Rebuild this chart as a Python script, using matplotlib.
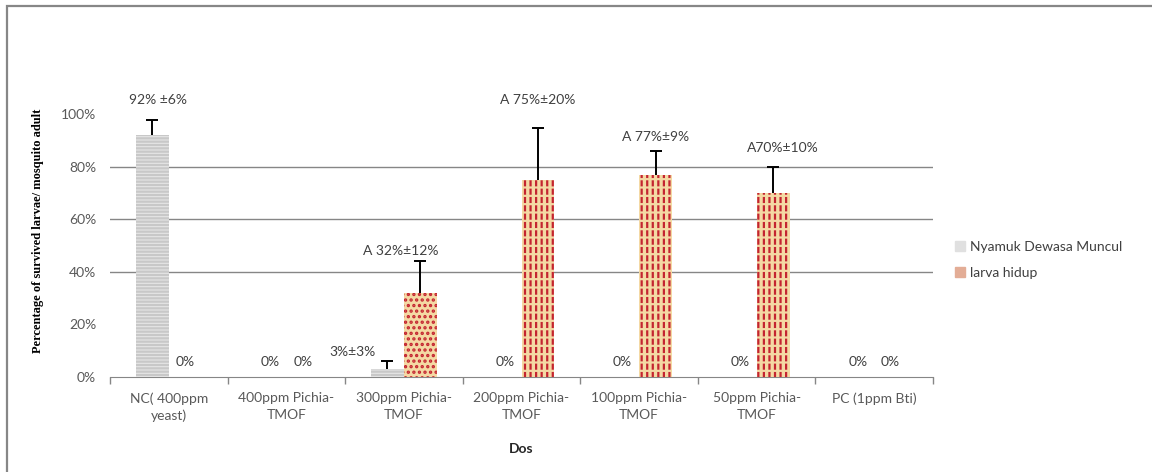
import matplotlib.pyplot as plt
import matplotlib.patches as mpatches
import numpy as np

categories = ["NC( 400ppm\nyeast)", "400ppm Pichia-\nTMOF", "300ppm Pichia-\nTMOF",
              "200ppm Pichia-\nTMOF", "100ppm Pichia-\nTMOF", "50ppm Pichia-\nTMOF",
              "PC (1ppm Bti)"]
adult = [92, 0, 3, 0, 0, 0, 0]
adult_err = [6, 0, 3, 0, 0, 0, 0]
larva = [0, 0, 32, 75, 77, 70, 0]
larva_err = [0, 0, 12, 20, 9, 10, 0]
adult_labels = ["92% \u00b16%", "0%", "3%\u00b13%", "0%", "0%", "0%", "0%"]
larva_labels = ["0%", "0%", "A 32%\u00b112%", "A 75%\u00b120%", "A 77%\u00b19%", "A70%\u00b110%", "0%"]
series_names = ["Nyamuk Dewasa Muncul", "larva hidup"]

# label nudges (layout only)
adult_dy = [7.5, 5.7, 3.5, 5.7, 5.7, 5.7, 5.7]
adult_dx = [0.05, 0, -0.3, 0, 0, 0, 0]
larva_dy = [5.7, 5.7, 4.0, 10.5, 5.4, 7.2, 5.7]
larva_dx = [0, 0, -0.17, 0, 0, 0.085, 0]

FONT = "Lato"
GRID = "#868686"
TXT = "#404040"
TAN = "#f4d9a4"

plt.rcParams["hatch.linewidth"] = 1.6

fig = plt.figure(figsize=(11.52, 4.72), dpi=100)
ax = fig.add_axes([0.0955, 0.2013, 0.7144, 0.6674])

x = np.arange(len(categories))
w = 0.28

b1 = ax.bar(x - w / 2, adult, w, color="#e6e6e6", edgecolor="#c8c8c8",
            linewidth=0, hatch="-----", zorder=3)
b2 = ax.bar(x + w / 2, larva, w, color=TAN, edgecolor="#c42430",
            linewidth=0, hatch="|||", zorder=3)
b2[2].set_hatch("...")
# break the red lines into dashes with tan stripes on top
b3 = ax.bar(x + w / 2, larva, w, fill=False, edgecolor=TAN,
            linewidth=0, hatch="--", zorder=3.5)
b3[2].set_hatch("")

# upper-only error bars
for xs, vals, errs in [(x - w / 2, adult, adult_err), (x + w / 2, larva, larva_err)]:
    for xi, v, e in zip(xs, vals, errs):
        if e > 0:
            ax.vlines(xi, v, v + e, color="black", lw=1.4, zorder=4)
            ax.plot([xi], [v + e], marker="_", ms=8, mew=1.4, color="black",
                    zorder=4)

for i in range(len(categories)):
    ax.text(x[i] - w / 2 + adult_dx[i], adult[i] + adult_err[i] + adult_dy[i],
            adult_labels[i], ha="center", va="center", fontsize=10,
            color=TXT, family=FONT)
    ax.text(x[i] + w / 2 + larva_dx[i], larva[i] + larva_err[i] + larva_dy[i],
            larva_labels[i], ha="center", va="center", fontsize=10,
            color=TXT, family=FONT)

ax.set_xlim(-0.5, len(categories) - 0.5)
ax.set_ylim(0, 120)
ax.set_yticks(np.arange(0, 101, 20))
ax.set_yticklabels([f"{v}%" for v in range(0, 101, 20)], family=FONT,
                   fontsize=10, color="#595959")
for v in [40, 60, 80]:
    ax.axhline(v, color=GRID, lw=1, zorder=1)

ax.set_xticks(x)
ax.set_xticklabels(categories, family=FONT, fontsize=10, color="#595959",
                   linespacing=1.45)
ax.set_xticks(np.arange(len(categories) + 1) - 0.5, minor=True)
ax.tick_params(axis="x", which="major", length=0, pad=11)
ax.tick_params(axis="x", which="minor", length=5, color=GRID, width=1)
ax.tick_params(axis="y", length=0, pad=10)

for s in ["top", "right", "left"]:
    ax.spines[s].set_visible(False)
ax.spines["bottom"].set_color(GRID)

ax.set_xlabel("Dos", family=FONT, fontsize=10, fontweight="bold",
              color="#262626", labelpad=15)
fig.text(0.033, 0.51, "Percentage of survived larvae/ mosquito adult",
         rotation=90, ha="center", va="center", family="Liberation Serif",
         fontweight="bold", fontsize=9, color="black")

handles = [mpatches.Patch(color="#e0e0e0"), mpatches.Patch(color="#e3ad96")]
fig.legend(handles, series_names, loc="center left",
           bbox_to_anchor=(0.829, 0.449), frameon=False, borderpad=0,
           borderaxespad=0, handlelength=0.7, handleheight=0.7,
           handletextpad=0.4, labelspacing=1.0,
           prop={"family": FONT, "size": 10}, labelcolor=TXT)

# outer chart frame (top and left edges visible)
fig.add_artist(mpatches.Rectangle((7 / 1152, -0.1), 1.2, 1.1 - 6 / 472,
                                  transform=fig.transFigure, fill=False,
                                  edgecolor="#878787", lw=1.6))

fig.savefig("out.png", dpi=100)
